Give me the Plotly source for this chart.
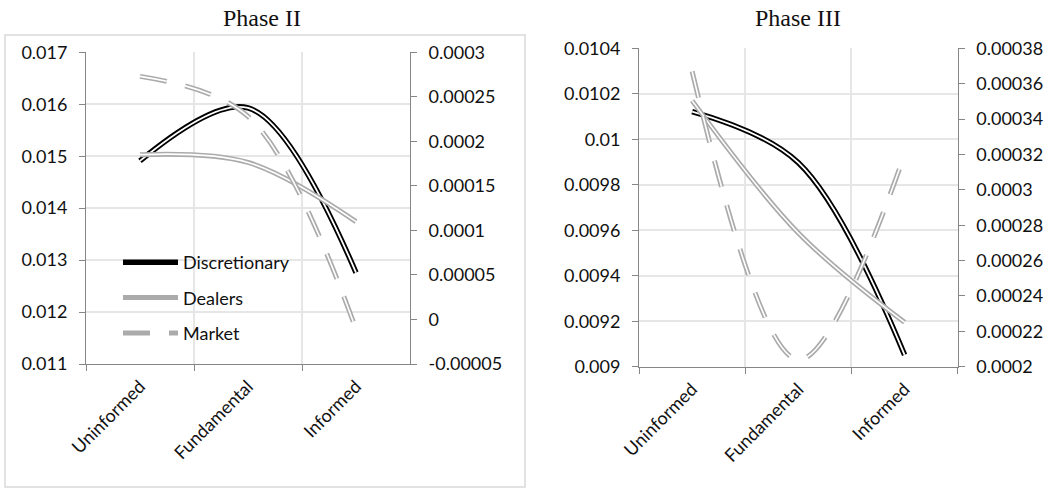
import plotly.graph_objects as go

# ---------------- data ----------------
categories = ["Uninformed", "Fundamental", "Informed"]

# Phase II
disc_p2 = [0.01491, 0.01593, 0.01276]
deal_p2 = [0.01503, 0.01488, 0.01374]
mkt_p2 = [0.000273, 0.000228, -0.000011]

# Phase III
disc_p3 = [0.010122, 0.009897, 0.009052]
deal_p3 = [0.010170, 0.009588, 0.009195]
mkt_p3 = [0.000367, 0.000204, 0.000320]

left_ticks_p2 = ["0.011", "0.012", "0.013", "0.014", "0.015", "0.016", "0.017"]
right_ticks_p2 = ["-0.00005", "0", "0.00005", "0.0001", "0.00015", "0.0002", "0.00025", "0.0003"]
left_ticks_p3 = ["0.009", "0.0092", "0.0094", "0.0096", "0.0098", "0.01", "0.0102", "0.0104"]
right_ticks_p3 = ["0.0002", "0.00022", "0.00024", "0.00026", "0.00028", "0.0003",
                  "0.00032", "0.00034", "0.00036", "0.00038"]

series_names = ["Discretionary", "Dealers", "Market"]
titles = ["Phase II", "Phase III"]

# ---------------- styling ----------------
W, H = 1062, 489
FONT = "Lato"
BLACK = "#000000"
GRAY = "#ababab"
AXIS = "#868686"
GRID = "#e6e6e6"
DASH = "27px,19px"

fig = go.Figure()


def double_line(x, y, color, width, inner, xaxis, yaxis, name, dash="solid", legend=False):
    fig.add_trace(go.Scatter(
        x=x, y=y, mode="lines", name=name, showlegend=legend,
        line=dict(color=color, width=width, shape="spline", smoothing=1.0, dash=dash),
        xaxis=xaxis, yaxis=yaxis, hoverinfo="skip", legendgroup=name))
    fig.add_trace(go.Scatter(
        x=x, y=y, mode="lines", name=name + " ", showlegend=False,
        line=dict(color="white", width=inner, shape="spline", smoothing=1.0, dash=dash),
        xaxis=xaxis, yaxis=yaxis, hoverinfo="skip", legendgroup=name))


# Phase II
double_line(categories, disc_p2, BLACK, 5.5, 1.8, "x", "y", series_names[0], legend=True)
double_line(categories, deal_p2, GRAY, 5, 1.6, "x", "y", series_names[1], legend=True)
double_line(categories, mkt_p2, GRAY, 5, 1.6, "x", "y2", series_names[2], dash=DASH, legend=True)
# Phase III
double_line(categories, disc_p3, BLACK, 5.5, 1.8, "x2", "y3", series_names[0])
double_line(categories, deal_p3, GRAY, 5, 1.6, "x2", "y3", series_names[1])
double_line(categories, mkt_p3, GRAY, 5, 1.6, "x2", "y4", series_names[2], dash=DASH)

tickfont = dict(family=FONT, size=18, color="#111111")


def xaxis_cfg(domain, anchor):
    return dict(domain=domain, anchor=anchor, type="category", categoryorder="array",
                categoryarray=categories, range=[-0.5, 2.5], tickson="boundaries",
                ticks="outside", ticklen=6, tickcolor=AXIS, showline=True, linecolor=AXIS,
                linewidth=1, showgrid=True, gridcolor=GRID, gridwidth=1.5, tickangle=-45,
                tickfont=tickfont, zeroline=False, fixedrange=True, automargin=False,
                ticklabelstandoff=4)


def yaxis_cfg(domain, anchor, ticks, side="left", overlaying=None, grid=True):
    vals = [float(t) for t in ticks]
    d = dict(domain=domain, anchor=anchor, range=[vals[0], vals[-1]], tickvals=vals,
             ticktext=ticks, ticks="outside", ticklen=6, tickcolor=AXIS, showline=True,
             linecolor=AXIS, linewidth=1, showgrid=grid, gridcolor=GRID, gridwidth=1.5,
             zeroline=False, tickfont=tickfont, side=side, fixedrange=True,
             ticklabelstandoff=8, automargin=False)
    if overlaying:
        d["overlaying"] = overlaying
    return d


x2_dom = [86 / W, 410 / W]
y2_dom = [1 - 364 / H, 1 - 52.3 / H]
x3_dom = [639 / W, 957.7 / W]
y3_dom = [1 - 366.7 / H, 1 - 48.3 / H]

fig.update_layout(
    width=W, height=H,
    margin=dict(l=0, r=0, t=0, b=0, autoexpand=False),
    paper_bgcolor="white", plot_bgcolor="white",
    xaxis=xaxis_cfg(x2_dom, "y"),
    yaxis=yaxis_cfg(y2_dom, "x", left_ticks_p2),
    yaxis2=yaxis_cfg(y2_dom, "x", right_ticks_p2, side="right", overlaying="y", grid=False),
    xaxis2=xaxis_cfg(x3_dom, "y3"),
    yaxis3=yaxis_cfg(y3_dom, "x2", left_ticks_p3),
    yaxis4=yaxis_cfg(y3_dom, "x2", right_ticks_p3, side="right", overlaying="y3", grid=False),
    showlegend=True,
    legend=dict(x=118 / W, y=1 - 244 / H, xanchor="left", yanchor="top",
                bgcolor="rgba(0,0,0,0)", font=dict(family=FONT, size=18, color="#111111"),
                tracegroupgap=9, itemwidth=55),
    annotations=[
        dict(text=titles[0], x=262 / W, y=1 - 18 / H, xref="paper", yref="paper",
             xanchor="center", yanchor="middle", showarrow=False,
             font=dict(family="Liberation Serif", size=24, color="#111111")),
        dict(text=titles[1], x=798 / W, y=1 - 18 / H, xref="paper", yref="paper",
             xanchor="center", yanchor="middle", showarrow=False,
             font=dict(family="Liberation Serif", size=24, color="#111111")),
    ],
    shapes=[
        dict(type="rect", xref="paper", yref="paper", x0=5 / W, x1=525 / W,
             y0=1 - 487 / H, y1=1 - 35 / H, line=dict(color="#d9d9d9", width=1.5),
             layer="below"),
    ],
)

fig.write_html("out.html")
